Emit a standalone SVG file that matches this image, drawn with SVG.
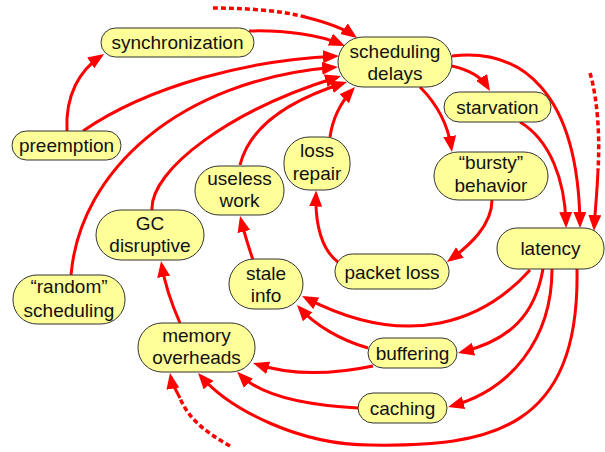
<svg xmlns="http://www.w3.org/2000/svg" width="605" height="452" viewBox="0 0 605 452">
<defs>
<marker id="ah" markerUnits="userSpaceOnUse" markerWidth="17" markerHeight="14" refX="12" refY="6.5" orient="auto">
<path d="M0,0 L16,6.5 L0,13 z" fill="#ff0000"/>
</marker>
</defs>
<style>
.node rect{fill:#ffff99;stroke:#333;stroke-width:1}
.node text{font-family:"Liberation Sans",Arial,sans-serif;font-size:19px;text-anchor:middle;fill:#111}
.e{fill:none;stroke:#ff0000;stroke-width:3;marker-end:url(#ah)}
.d{fill:none;stroke:#ff0000;stroke-width:3.5;stroke-dasharray:5 3}
</style>
<rect width="605" height="452" fill="#fff"/>
<g id="connectors">
<path class="d" d="M213,8 C240,8 280,10 305,17"/>
<path class="e" d="M305,17 C325,22 343,28 353.8,35.7"/>
<path class="e" d="M249,31 C285,30 320,35 341.3,44.4"/>
<path class="e" d="M83,131 C150,85 250,60 335,56.2"/>
<path class="e" d="M71,275 C80,170 180,80 334,67.3"/>
<path class="e" d="M152,210 C150,170 230,110 337.2,77.2"/>
<path class="e" d="M240,165 C250,125 290,100 343.2,83.2"/>
<path class="e" d="M330,137 C333,115 343,100 352.3,89.9"/>
<path class="e" d="M452,66 C470,70 482,78 487.9,87.6"/>
<path class="e" d="M420,87 C438,105 448,125 451.4,148"/>
<path class="e" d="M452,56 C520,48 578,90 580,224"/>
<path class="e" d="M520,122 C550,140 565,180 566,224"/>
<path class="d" d="M590,73 C598,100 600,140 598,170"/>
<path class="e" d="M598,170 C597,195 595,212 594.2,227"/>
<path class="e" d="M492,200 C492,225 470,245 450.2,259.6"/>
<path class="e" d="M338,262 C322,250 315,225 316,194.5"/>
<path class="e" d="M253,260 C248,245 244,232 241,219.9"/>
<path class="e" d="M180,323 C172,305 165,285 161.7,265"/>
<path class="e" d="M67,131 C65,95 80,70 100.7,56.2"/>
<path class="e" d="M530,270 C485,320 410,352 305.6,297.8"/>
<path class="e" d="M543,269 C535,315 510,340 461.9,352"/>
<path class="e" d="M552,269 C552,340 510,390 451.9,405.9"/>
<path class="e" d="M577,269 C580,430 490,447 370,445 C300,445 230,410 200.7,376"/>
<path class="e" d="M358,408 C300,405 260,395 240,374.7"/>
<path class="e" d="M373,366 C330,375 290,375 256.8,364.2"/>
<path class="e" d="M368,348 C340,340 315,325 299.7,308"/>
<path class="d" d="M230,446 C205,432 188,418 180,398"/>
<path class="e" d="M180,398 C176,390 172,384 170.7,376.9"/>
</g>
<g id="synchronization" class="node"><rect x="101" y="28" width="153" height="29" rx="14.5"/><text x="177.5" y="49">synchronization</text></g>
<g id="scheduling-delays" class="node"><rect x="338" y="37" width="114" height="50" rx="25"/><text x="395" y="58">scheduling</text><text x="395" y="80">delays</text></g>
<g id="starvation" class="node"><rect x="444" y="92" width="107" height="30" rx="15"/><text x="497.5" y="113.5">starvation</text></g>
<g id="preemption" class="node"><rect x="12" y="131" width="109" height="29" rx="14.5"/><text x="66.5" y="152">preemption</text></g>
<g id="bursty-behavior" class="node"><rect x="434" y="152" width="114" height="48" rx="24"/><text x="491" y="169">“bursty”</text><text x="491" y="192">behavior</text></g>
<g id="loss-repair" class="node"><rect x="284" y="137" width="66" height="53" rx="25"/><text x="317" y="157">loss</text><text x="317" y="180">repair</text></g>
<g id="useless-work" class="node"><rect x="195" y="166" width="89" height="49" rx="24"/><text x="239.5" y="185">useless</text><text x="239.5" y="207">work</text></g>
<g id="gc-disruptive" class="node"><rect x="96" y="210" width="108" height="50" rx="25"/><text x="150" y="229.5">GC</text><text x="150" y="252">disruptive</text></g>
<g id="stale-info" class="node"><rect x="229" y="259" width="74" height="50" rx="25"/><text x="266" y="280">stale</text><text x="266" y="302">info</text></g>
<g id="random-scheduling" class="node"><rect x="13" y="275" width="112" height="49" rx="24"/><text x="69" y="293">“random”</text><text x="69" y="316.5">scheduling</text></g>
<g id="packet-loss" class="node"><rect x="335" y="254" width="114" height="35" rx="17.5"/><text x="392" y="278.5">packet loss</text></g>
<g id="latency" class="node"><rect x="497" y="228" width="107" height="41" rx="20"/><text x="550.5" y="254.5">latency</text></g>
<g id="memory-overheads" class="node"><rect x="138" y="323" width="117" height="49" rx="24"/><text x="196.5" y="341.5">memory</text><text x="196.5" y="364">overheads</text></g>
<g id="buffering" class="node"><rect x="368" y="338" width="89" height="30" rx="15"/><text x="412.5" y="360">buffering</text></g>
<g id="caching" class="node"><rect x="358" y="393" width="89" height="30" rx="15"/><text x="402.5" y="415">caching</text></g>
</svg>
